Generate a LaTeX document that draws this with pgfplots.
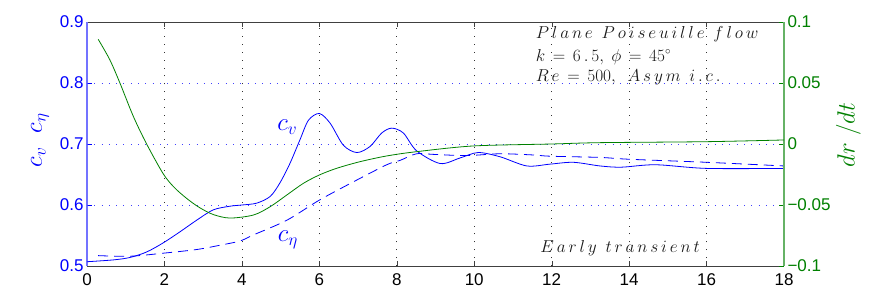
\documentclass[border=0pt]{standalone}
\usepackage{pgfplots}
\pgfplotsset{compat=1.18}
\usepackage{fontspec}
\setmainfont{Liberation Sans}
\definecolor{mblue}{rgb}{0,0,1}
\definecolor{mgreen}{rgb}{0,0.5,0}
\begin{document}
\begin{tikzpicture}
\path[use as bounding box] (-87pt,-33pt) rectangle (785pt,266pt);
\begin{axis}[
  scale only axis, width=697pt, height=244pt,
  xmin=0, xmax=18, ymin=0.5, ymax=0.9,
  xtick={0,2,4,6,8,10,12,14,16,18},
  ytick={0.5,0.6,0.7,0.8,0.9},
  yticklabels={0.5,0.6,0.7,0.8,0.9},
  axis x line*=box, axis y line*=left,
  x axis line style={black!75, line width=0.8pt},
  y axis line style={mblue!55, line width=1.4pt},
  xtick pos=both,
  tick align=inside, major tick length=5pt,
  xtick style={black!75},
  ytick style={mblue},
  extra x ticks={2,4,6,8,10,12,14,16},
  extra x tick labels={},
  extra x tick style={grid=major, major grid style={black!80, dash pattern=on 0.9pt off 7pt, line width=0.7pt}, major tick length=0pt},
  extra y ticks={0.6,0.7,0.8},
  extra y tick labels={},
  extra y tick style={grid=major, major grid style={mblue!75, dash pattern=on 0.9pt off 6.4pt, line width=0.7pt}, major tick length=0pt},
  tick label style={font=\fontsize{17}{19}\selectfont},
  xticklabel style={yshift=-4pt},
  /pgf/number format/assume math mode=true,
  yticklabel style={text=mblue},
  ylabel={\fontsize{26}{30}\selectfont $c_v\ \; c_\eta$},
  ylabel style={at={(rel axis cs:-0.0674,0.516)}, anchor=center, text=mblue},
]
\addplot[mblue, line width=0.8pt, smooth] coordinates {
(0,0.507)(0.68,0.510)(1.11,0.514)(1.54,0.523)(1.97,0.538)(2.4,0.556)(2.83,0.575)(3.26,0.592)(3.69,0.598)(4.0,0.600)(4.38,0.603)(4.73,0.614)(4.98,0.636)(5.24,0.668)(5.5,0.707)(5.72,0.739)(6.0,0.750)(6.28,0.734)(6.62,0.698)(6.97,0.686)(7.31,0.696)(7.61,0.718)(7.87,0.726)(8.17,0.718)(8.51,0.689)(9.12,0.668)(9.63,0.677)(10.1,0.686)(10.67,0.679)(11.36,0.664)(11.96,0.667)(12.56,0.670)(13.25,0.664)(13.8,0.662)(14.68,0.666)(16,0.660)(18,0.660)
};
\addplot[mblue, line width=0.8pt, smooth, dash pattern=on 10pt off 6pt] coordinates {
(0.29,0.517)(1.11,0.516)(1.97,0.521)(2.83,0.527)(3.43,0.534)(3.95,0.541)(4.3,0.551)(5.16,0.575)(6.0,0.608)(6.88,0.638)(7.74,0.666)(8.08,0.673)(8.51,0.684)(8.94,0.683)(9.8,0.681)(10.67,0.684)(11.53,0.682)(11.96,0.680)(13.25,0.678)(14,0.675)(16,0.670)(18,0.664)
};
\node[mblue, font=\fontsize{26}{30}\selectfont] at (axis cs:5.17,0.728) {$c_v$};
\node[mblue, font=\fontsize{26}{30}\selectfont] at (axis cs:5.19,0.543) {$c_\eta$};
\node[black!90, anchor=west, font=\fontsize{16}{18}\selectfont] at (axis cs:11.50,0.880) {$P\,l\,a\,n\,e\ \ P\,o\,i\,s\,e\,u\,i\,l\,l\,e\ \ f\,l\,o\,w$};
\node[black!90, anchor=west, font=\fontsize{16}{18}\selectfont] at (axis cs:11.50,0.843) {$k\,=\,6\,.\,5,\ \phi\,=\,45^\circ$};
\node[black!90, anchor=west, font=\fontsize{16}{18}\selectfont] at (axis cs:11.50,0.810) {$R\,e\,=\,500,\ \ A\,s\,y\,m\ \ i\,.\,c\,.$};
\node[black!90, anchor=west, font=\fontsize{16}{18}\selectfont] at (axis cs:11.62,0.5295) {$E\,a\,r\,l\,y\ \ t\,r\,a\,n\,s\,i\,e\,n\,t$};
\end{axis}
\begin{axis}[
  scale only axis, width=697pt, height=244pt,
  xmin=0, xmax=18, ymin=-0.1, ymax=0.1,
  axis x line=none, axis y line*=right,
  y axis line style={mgreen!60, line width=1.4pt},
  tick align=inside, major tick length=5pt,
  ytick={-0.1,-0.05,0,0.05,0.1},
  yticklabels={−0.1,−0.05,0,0.05,0.1},
  ytick style={mgreen},
  tick label style={font=\fontsize{17}{19}\selectfont},
  yticklabel style={text=mgreen},
  ylabel={\fontsize{25}{30}\selectfont $dr\;/dt$},
  ylabel style={at={(rel axis cs:1.0925,0.537)}, anchor=center, text=mgreen},
]
\addplot[mgreen, line width=0.8pt, smooth] coordinates {
(0.29,0.0858)(0.59,0.069)(0.85,0.050)(1.2,0.0224)(1.54,0.0)(1.97,-0.0245)(2.25,-0.0355)(2.57,-0.0445)(2.9,-0.0520)(3.26,-0.0578)(3.69,-0.0607)(4.3,-0.0582)(4.73,-0.0514)(5.16,-0.0418)(5.59,-0.0322)(6.0,-0.0254)(6.45,-0.0199)(7.05,-0.0145)(7.74,-0.0098)(8.51,-0.0063)(9.98,-0.0016)(12,0.0)(13.25,0.0011)(16,0.0019)(18,0.0033)
};
\end{axis}
\end{tikzpicture}
\end{document}
